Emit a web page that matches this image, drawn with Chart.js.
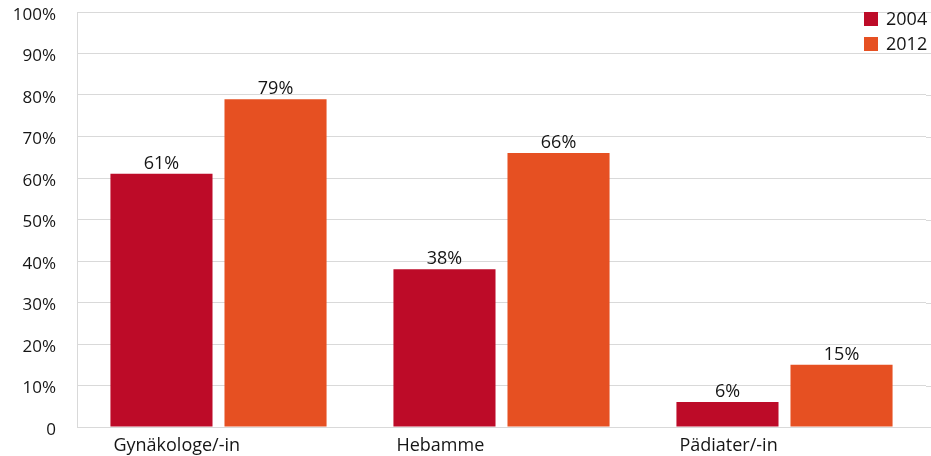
<!DOCTYPE html>
<html>
<head>
<meta charset="utf-8">
<script src="https://cdn.jsdelivr.net/npm/chart.js@4/dist/chart.umd.min.js"></script>
<style>
  html, body { margin: 0; padding: 0; background: #fff; }
  #wrap { width: 931px; height: 456px; position: relative; }
</style>
</head>
<body>
<div id="wrap"><canvas id="c"></canvas></div>
<script>
// ---- data ----
const categories = ['Gynäkologe/-in', 'Hebamme', 'Pädiater/-in'];
const years = ['2004', '2012'];
const values2004 = [61, 38, 6];
const values2012 = [79, 66, 15];
const yTicks = [0, 10, 20, 30, 40, 50, 60, 70, 80, 90, 100];

const colors = ['#BD0B28', '#E65022'];
const textColor = '#151515';
const gridColor = '#d9d9d9';
const fontFamily = '"Open Sans", "Noto Sans", sans-serif';

// grid lines run on to the right edge of the picture
const gridToEdge = {
    id: 'gridToEdge',
    beforeDatasetsDraw(chart) {
        const ctx = chart.ctx;
        const y = chart.scales.y;
        ctx.save();
        ctx.strokeStyle = gridColor;
        ctx.lineWidth = 1;
        yTicks.forEach(v => {
            const py = Math.round(y.getPixelForValue(v)) + 0.5;
            ctx.beginPath();
            ctx.moveTo(chart.chartArea.right, py);
            ctx.lineTo(chart.width, py);
            ctx.stroke();
        });
        ctx.restore();
    }
};

// value labels above bars
const valueLabels = {
    id: 'valueLabels',
    afterDatasetsDraw(chart) {
        const ctx = chart.ctx;
        ctx.save();
        ctx.font = '18px ' + fontFamily;
        ctx.fillStyle = textColor;
        ctx.textAlign = 'center';
        ctx.textBaseline = 'bottom';
        chart.data.datasets.forEach((ds, i) => {
            chart.getDatasetMeta(i).data.forEach((bar, j) => {
                ctx.fillText(ds.data[j] + '%', bar.x, bar.y - 1);
            });
        });
        ctx.restore();
    }
};

// category labels, left aligned under the first bar of each group
const categoryLabels = {
    id: 'categoryLabels',
    afterDraw(chart) {
        const ctx = chart.ctx;
        ctx.save();
        ctx.font = '18px ' + fontFamily;
        ctx.fillStyle = textColor;
        ctx.textAlign = 'left';
        ctx.textBaseline = 'middle';
        chart.getDatasetMeta(0).data.forEach((bar, j) => {
            ctx.fillText(chart.data.labels[j], bar.x - bar.width / 2 + 3, chart.chartArea.bottom + 19);
        });
        ctx.restore();
    }
};

// legend drawn inside the plot, top right
const cornerLegend = {
    id: 'cornerLegend',
    afterDraw(chart) {
        const ctx = chart.ctx;
        ctx.save();
        ctx.font = '18px ' + fontFamily;
        ctx.textBaseline = 'middle';
        ctx.textAlign = 'left';
        chart.data.datasets.forEach((ds, i) => {
            const y = 19 + i * 25;
            ctx.fillStyle = ds.backgroundColor;
            ctx.fillRect(864, y - 7, 14, 14);
            ctx.fillStyle = textColor;
            ctx.fillText(ds.label, 886, y + 1);
        });
        ctx.restore();
    }
};

new Chart(document.getElementById('c'), {
    type: 'bar',
    data: {
        labels: categories,
        datasets: [
            { label: years[0], data: values2004, backgroundColor: colors[0] },
            { label: years[1], data: values2012, backgroundColor: colors[1] }
        ]
    },
    options: {
        responsive: true,
        maintainAspectRatio: false,
        animation: false,
        layout: { padding: { top: 12, right: 5, left: 0, bottom: 0 } },
        categoryPercentage: 0.806,
        barPercentage: 0.895,
        plugins: {
            legend: { display: false },
            tooltip: { enabled: false }
        },
        scales: {
            x: {
                grid: { display: false, drawTicks: false },
                border: { display: false },
                ticks: { display: false },
                afterFit(scale) { scale.height = 29; }
            },
            y: {
                min: 0,
                max: 100,
                afterBuildTicks(scale) { scale.ticks = yTicks.map(v => ({ value: v })); },
                grid: { color: gridColor, drawTicks: false, lineWidth: 1 },
                border: { display: true, color: gridColor },
                ticks: {
                    color: textColor,
                    font: { family: fontFamily, size: 17 },
                    padding: 21,
                    labelOffset: 3,
                    callback: v => v === 0 ? '0' : v + '%'
                },
                afterFit(scale) {
                    scale.width = 77;
                    scale.paddingTop = 0;
                    scale.paddingBottom = 0;
                }
            }
        }
    },
    plugins: [gridToEdge, valueLabels, categoryLabels, cornerLegend]
});
</script>
</body>
</html>
